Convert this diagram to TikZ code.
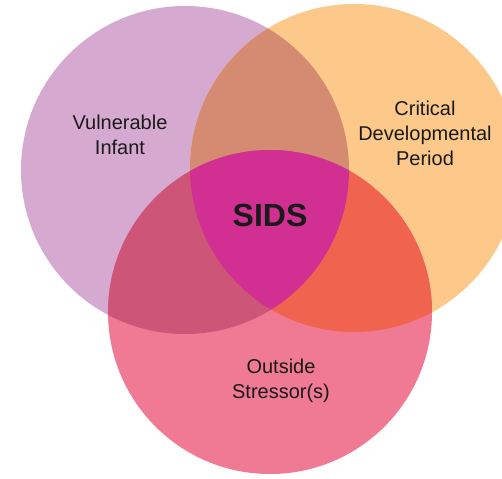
\documentclass[tikz,border=0pt]{standalone}
\usepackage{fontspec}
\setmainfont{Liberation Sans}
\usepackage{tikz}

\definecolor{infantc}{HTML}{D5A9D0}
\definecolor{periodc}{HTML}{FCC98A}
\definecolor{stressc}{HTML}{F07A93}
\definecolor{infperc}{HTML}{D58A72}
\definecolor{infstrc}{HTML}{CC5578}
\definecolor{perstrc}{HTML}{F0644F}
\definecolor{sidsc}{HTML}{D22F93}
\definecolor{textc}{HTML}{1A1A1A}

\tikzset{
	lbl/.style={align=center,text=textc,font=\fontsize{20}{25}\selectfont},
}

\begin{document}
\begin{tikzpicture}[x=1pt,y=-1pt]
	\useasboundingbox[fill=white] (0,0) rectangle (502,478);

	% the three sets
	\fill[infantc] (185,170) circle (164);
	\fill[periodc] (354,168) circle (164);
	\fill[stressc] (270,312) circle (162);

	% overlaps
	\begin{scope}
		\clip (354,168) circle (164);
		\fill[perstrc] (270,312) circle (162);
	\end{scope}
	\begin{scope}
		\clip (185,170) circle (164);
		\fill[infperc] (354,168) circle (164);
		\fill[infstrc] (270,312) circle (162);
		\clip (354,168) circle (164);
		\fill[sidsc] (270,312) circle (162);
	\end{scope}

	\node[lbl] (infant) at (120,135) {Vulnerable\\Infant};
	\node[lbl] (period) at (425,133) {Critical\\Developmental\\Period};
	\node[lbl] (stress) at (281,381) {Outside\\Stressor(s)};
	\node[text=textc,font=\fontsize{32}{38}\selectfont\bfseries] (sids) at (270,215) {SIDS};
\end{tikzpicture}
\end{document}
